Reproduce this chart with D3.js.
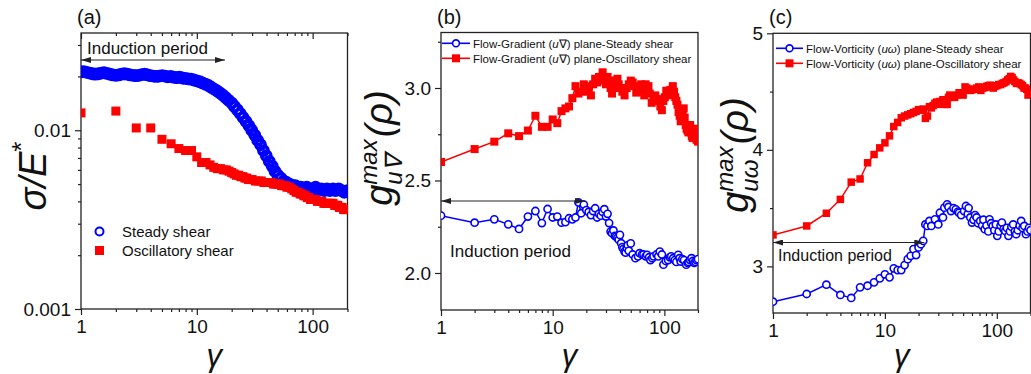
<!DOCTYPE html>
<html>
<head>
<meta charset="utf-8">
<script src="https://cdn.jsdelivr.net/npm/d3@7"></script>
<style>
  body { margin: 0; background: #fff; }
  svg text { font-family: "Liberation Sans", Arial, Helvetica, sans-serif; fill: #111; }
</style>
</head>
<body>
<svg id="chart" width="1031" height="374"></svg>
<script>
// ---- data ----
const strainDomain = [1, 200];
const strainTicks = [1, 10, 100];
const strainMinor = [2, 3, 4, 5, 6, 7, 8, 9, 20, 30, 40, 50, 60, 70, 80, 90, 200];

// (a) stress / modulus
const aSteadyStrain = [1, 1.06, 1.12, 1.19, 1.26, 1.33, 1.41, 1.5, 1.58, 1.68, 1.78, 1.88, 2, 2.11, 2.24, 2.37, 2.51, 2.66, 2.82, 2.98, 3.16, 3.35, 3.55, 3.76, 3.98, 4.22, 4.47, 4.73, 5.01, 5.31, 5.62, 5.96, 6.31, 6.68, 7.08, 7.5, 7.94, 8.41, 8.91, 9.44, 10, 10.6, 11.2, 11.9, 12.6, 13.3, 14.1, 15, 15.8, 16.8, 17.8, 18.8, 20, 21.1, 22.4, 23.7, 25.1, 26.6, 28.2, 29.8, 31.6, 33.5, 35.5, 37.6, 39.8, 42.2, 44.7, 47.3, 50.1, 53.1, 56.2, 59.6, 63.1, 66.8, 70.8, 75, 79.4, 84.1, 89.1, 94.4, 100, 106, 112, 119, 126, 133, 141, 150, 158, 168, 178, 188, 200];
const aSteadySigma = [0.0212, 0.0213, 0.0211, 0.0209, 0.0207, 0.0206, 0.0207, 0.0209, 0.0210, 0.0208, 0.0206, 0.0204, 0.0203, 0.0204, 0.0206, 0.0207, 0.0206, 0.0204, 0.0203, 0.0202, 0.0203, 0.0205, 0.0206, 0.0204, 0.0202, 0.0201, 0.0200, 0.0201, 0.0202, 0.0201, 0.0199, 0.0200, 0.0198, 0.0197, 0.0198, 0.0196, 0.0195, 0.0194, 0.0193, 0.0191, 0.0189, 0.0187, 0.0184, 0.0181, 0.0178, 0.0174, 0.0170, 0.0166, 0.0162, 0.0157, 0.0152, 0.0147, 0.0142, 0.0136, 0.0130, 0.0124, 0.0118, 0.0112, 0.0106, 0.0100, 0.0094, 0.0088, 0.0083, 0.0077, 0.0072, 0.0067, 0.0063, 0.0059, 0.0056, 0.0054, 0.0052, 0.0051, 0.0050, 0.0049, 0.0049, 0.0048, 0.0048, 0.0047, 0.0048, 0.0047, 0.0047, 0.0048, 0.0046, 0.0047, 0.0046, 0.0047, 0.0046, 0.0047, 0.0046, 0.0047, 0.0046, 0.0045, 0.0046];
const aOscStrain = [1, 2, 3, 4, 5, 6, 7, 8, 9, 10, 11, 12, 13, 14, 15, 16, 17, 18, 19, 20, 21, 22, 23, 24, 25, 26, 27, 28, 29, 30, 32, 34, 36, 38, 40, 42, 44, 46, 48, 50, 52, 54, 56, 58, 60, 63, 66, 69, 72, 75, 78, 81, 84, 87, 90, 93, 96, 99, 105, 110, 115, 120, 125, 130, 135, 140, 145, 150, 155, 160, 165, 170, 175, 180, 185, 190, 195, 200];
const aOscSigma = [0.0125, 0.0128, 0.0103, 0.0103, 0.0089, 0.0084, 0.0079, 0.0077, 0.0077, 0.0071, 0.0066, 0.0066, 0.0064, 0.0062, 0.0061, 0.0061, 0.0060, 0.0060, 0.0059, 0.0058, 0.0057, 0.0056, 0.0056, 0.0055, 0.0055, 0.0054, 0.0054, 0.0053, 0.0053, 0.0053, 0.0052, 0.0052, 0.0052, 0.0051, 0.0051, 0.0051, 0.0051, 0.0050, 0.0050, 0.0050, 0.0050, 0.0049, 0.0049, 0.0049, 0.0048, 0.0048, 0.0047, 0.0046, 0.0045, 0.0045, 0.0044, 0.0044, 0.0043, 0.0043, 0.0042, 0.0042, 0.0041, 0.0041, 0.0041, 0.0040, 0.0040, 0.0040, 0.0039, 0.0039, 0.0039, 0.0039, 0.0039, 0.0039, 0.0038, 0.0038, 0.0038, 0.0037, 0.0037, 0.0037, 0.0036, 0.0036, 0.0036, 0.0036];

// (b) flow-gradient plane
const bSteadyStrain = [1, 2, 3, 4, 5, 6, 7, 8, 9, 10, 11, 12, 13, 14, 15, 16, 17, 18, 19, 20, 21, 22, 23, 24, 25, 26, 27, 28, 29, 30, 31, 32, 33, 34, 35, 36, 37, 38, 39, 40, 41, 42, 43, 44, 45, 46, 47, 48, 50, 52, 55, 58, 60, 63, 65, 68, 70, 73, 75, 78, 80, 85, 88, 91, 95, 98, 103, 108, 112, 115, 120, 124, 128, 133, 137, 140, 145, 150, 157, 162, 165, 170, 175, 180, 185, 190, 194, 200];
const bSteadyG = [2.31, 2.272, 2.29, 2.263, 2.238, 2.305, 2.335, 2.27, 2.346, 2.30, 2.305, 2.272, 2.275, 2.296, 2.29, 2.30, 2.382, 2.323, 2.37, 2.34, 2.33, 2.313, 2.335, 2.35, 2.30, 2.32, 2.31, 2.33, 2.345, 2.305, 2.32, 2.27, 2.224, 2.215, 2.23, 2.20, 2.197, 2.19, 2.18, 2.206, 2.161, 2.14, 2.13, 2.116, 2.11, 2.135, 2.15, 2.12, 2.16, 2.10, 2.08, 2.09, 2.107, 2.10, 2.10, 2.09, 2.098, 2.085, 2.07, 2.08, 2.09, 2.10, 2.09, 2.116, 2.10, 2.045, 2.065, 2.07, 2.085, 2.09, 2.08, 2.07, 2.06, 2.098, 2.08, 2.062, 2.075, 2.07, 2.045, 2.055, 2.06, 2.07, 2.08, 2.065, 2.055, 2.06, 2.07, 2.075];
const bOscStrain = [1, 2, 3, 4, 5, 6, 7, 8, 9, 10, 11, 12, 13, 14, 15, 16, 17, 18, 19, 20, 21, 22, 23, 24, 25, 26, 27, 28, 29, 30, 31, 32, 33, 34, 35, 36, 37, 38, 39, 40, 42, 44, 46, 48, 50, 52, 54, 56, 58, 60, 62, 64, 66, 68, 70, 72, 74, 77, 80, 83, 86, 89, 92, 95, 98, 101, 104, 107, 110, 113, 116, 119, 122, 125, 128, 131, 134, 137, 140, 143, 146, 149, 152, 155, 158, 161, 164, 167, 170, 173, 176, 179, 182, 185, 188, 191, 194, 197, 200];
const bOscG = [2.60, 2.67, 2.71, 2.755, 2.74, 2.77, 2.85, 2.79, 2.79, 2.83, 2.81, 2.875, 2.89, 2.90, 2.945, 3.01, 2.97, 2.98, 3.02, 3.01, 2.98, 2.96, 3.02, 3.05, 3.03, 3.06, 3.04, 3.085, 3.05, 3.02, 3.06, 3.04, 3.00, 2.97, 3.03, 3.00, 3.04, 3.05, 3.02, 3.00, 2.98, 2.96, 3.00, 3.02, 3.04, 3.03, 3.01, 2.975, 2.99, 3.00, 3.02, 2.98, 2.96, 3.02, 3.00, 3.01, 2.97, 2.92, 2.95, 2.96, 2.93, 2.94, 2.90, 2.88, 2.93, 2.95, 2.985, 2.96, 2.97, 2.99, 2.97, 3.01, 2.98, 2.95, 2.93, 2.91, 2.87, 2.85, 2.82, 2.86, 2.88, 2.89, 2.84, 2.80, 2.78, 2.77, 2.76, 2.79, 2.80, 2.76, 2.74, 2.73, 2.76, 2.78, 2.75, 2.74, 2.72, 2.73, 2.71];

// (c) flow-vorticity plane
const cSteadyStrain = [1, 2, 3, 4, 5, 6, 7, 8, 9, 10, 11, 12, 13, 14, 15, 16, 17, 18, 19, 20, 21, 22, 23, 24, 25, 26, 28, 30, 31, 33, 34, 36, 37, 39, 41, 43, 45, 46, 48, 51, 53, 55, 56, 58, 60, 62, 64, 66, 68, 71, 74, 76, 78, 81, 84, 86, 89, 92, 95, 98, 101, 104, 108, 111, 115, 119, 123, 127, 131, 135, 140, 145, 149, 154, 160, 165, 170, 176, 182, 188, 194, 200];
const cSteadyG = [2.697, 2.763, 2.843, 2.755, 2.729, 2.82, 2.834, 2.863, 2.897, 2.932, 2.906, 2.983, 2.968, 2.968, 3.011, 3.062, 3.09, 3.148, 3.097, 3.162, 3.19, 3.219, 3.36, 3.347, 3.39, 3.347, 3.404, 3.36, 3.46, 3.42, 3.504, 3.532, 3.51, 3.475, 3.50, 3.49, 3.47, 3.46, 3.44, 3.475, 3.518, 3.45, 3.50, 3.42, 3.376, 3.40, 3.44, 3.42, 3.37, 3.39, 3.35, 3.40, 3.319, 3.35, 3.30, 3.404, 3.37, 3.347, 3.31, 3.36, 3.262, 3.30, 3.35, 3.376, 3.32, 3.304, 3.33, 3.262, 3.30, 3.34, 3.36, 3.30, 3.276, 3.31, 3.35, 3.39, 3.33, 3.347, 3.276, 3.30, 3.33, 3.31];
const cOscStrain = [1, 2, 3, 4, 5, 6, 7, 8, 9, 10, 11, 12, 13, 14, 15, 16, 17, 18, 19, 20, 21, 22, 23, 24, 25, 26, 27, 28, 29, 30, 31, 32, 33, 34, 35, 36, 37, 38, 39, 40, 42, 44, 46, 48, 50, 52, 54, 56, 58, 60, 63, 66, 69, 72, 75, 78, 81, 84, 87, 90, 93, 96, 100, 104, 108, 112, 116, 121, 125, 129, 133, 137, 141, 145, 150, 155, 160, 165, 170, 175, 180, 185, 190, 195, 200];
const cOscG = [3.27, 3.347, 3.456, 3.575, 3.723, 3.75, 3.889, 3.96, 4.017, 4.06, 4.12, 4.20, 4.235, 4.275, 4.29, 4.30, 4.31, 4.32, 4.33, 4.345, 4.34, 4.35, 4.27, 4.29, 4.37, 4.36, 4.38, 4.40, 4.41, 4.39, 4.415, 4.40, 4.43, 4.42, 4.39, 4.39, 4.45, 4.47, 4.46, 4.46, 4.45, 4.47, 4.49, 4.48, 4.47, 4.54, 4.53, 4.52, 4.51, 4.515, 4.52, 4.53, 4.54, 4.51, 4.53, 4.535, 4.545, 4.55, 4.555, 4.54, 4.53, 4.545, 4.55, 4.56, 4.56, 4.57, 4.575, 4.585, 4.60, 4.61, 4.63, 4.62, 4.60, 4.585, 4.57, 4.575, 4.57, 4.56, 4.55, 4.53, 4.53, 4.52, 4.47, 4.48, 4.49];

const BLUE = "#0000ff";
const RED = "#ff0000";
const INK = "#222";

const svg = d3.select("#chart");

svg.append("defs").append("marker")
  .attr("id", "arrow")
  .attr("viewBox", "0 0 10 6")
  .attr("refX", 10).attr("refY", 3)
  .attr("markerWidth", 10).attr("markerHeight", 6)
  .attr("markerUnits", "userSpaceOnUse")
  .attr("orient", "auto-start-reverse")
  .append("path").attr("d", "M0,0L10,3L0,6Z").attr("fill", INK);

function zip(xs, ys) { return xs.map((d, i) => [d, ys[i]]); }

function styleAxis(sel, fontSize) {
  sel.select(".domain").remove();
  sel.selectAll("line").attr("stroke", INK).attr("stroke-width", 1.2);
  sel.selectAll("text").attr("font-size", fontSize).attr("fill", "#111")
    .attr("font-family", '"Liberation Sans", Arial, sans-serif');
}

function drawPanel(p) {
  const g = svg.append("g");
  const x = d3.scaleLog().domain(strainDomain).range([p.left, p.right]);
  const y = (p.logY ? d3.scaleLog() : d3.scaleLinear()).domain(p.yDomain).range([p.bottom, p.top]);

  const clipId = "clip-" + p.id;
  svg.select("defs").append("clipPath").attr("id", clipId)
    .append("rect").attr("x", p.left).attr("y", p.top)
    .attr("width", p.right - p.left).attr("height", p.bottom - p.top);

  // x axis
  g.append("g").attr("transform", `translate(0,${p.bottom})`)
    .call(d3.axisBottom(x).tickValues(strainTicks).tickFormat(d3.format("d")).tickSize(6).tickPadding(5))
    .call(s => styleAxis(s, 19));
  g.append("g").attr("transform", `translate(0,${p.bottom})`)
    .call(d3.axisBottom(x).tickValues(strainMinor).tickFormat("").tickSize(3))
    .call(s => styleAxis(s, 19));
  if (p.topTicks) {
    g.append("g").attr("transform", `translate(0,${p.top})`)
      .call(d3.axisBottom(x).tickValues(strainTicks).tickFormat("").tickSize(6))
      .call(s => styleAxis(s, 19));
    g.append("g").attr("transform", `translate(0,${p.top})`)
      .call(d3.axisBottom(x).tickValues(strainMinor).tickFormat("").tickSize(3))
      .call(s => styleAxis(s, 19));
  }

  // y axis
  g.append("g").attr("transform", `translate(${p.left},0)`)
    .call(d3.axisLeft(y).tickValues(p.yTicks).tickFormat(p.yFormat).tickSize(6).tickPadding(4))
    .call(s => styleAxis(s, 19));
  g.append("g").attr("transform", `translate(${p.left},0)`)
    .call(d3.axisLeft(y).tickValues(p.yMinor).tickFormat("").tickSize(3))
    .call(s => styleAxis(s, 19));

  // frame
  g.append("rect")
    .attr("x", p.left).attr("y", p.top)
    .attr("width", p.right - p.left).attr("height", p.bottom - p.top)
    .attr("fill", "none").attr("stroke", INK).attr("stroke-width", 1.3);

  const plot = g.append("g").attr("clip-path", `url(#${clipId})`);

  p.series.forEach(s => {
    const pts = zip(s.xs, s.ys);
    if (s.line) {
      plot.append("path").datum(pts)
        .attr("fill", "none").attr("stroke", s.color).attr("stroke-width", 1.5)
        .attr("d", d3.line().x(d => x(d[0])).y(d => y(d[1])));
    }
    if (s.shape === "circle") {
      plot.selectAll(null).data(pts).enter().append("circle")
        .attr("cx", d => x(d[0])).attr("cy", d => y(d[1]))
        .attr("r", s.size)
        .attr("fill", s.fill).attr("stroke", s.color).attr("stroke-width", s.stroke);
    } else {
      plot.selectAll(null).data(pts).enter().append("rect")
        .attr("x", d => x(d[0]) - s.size / 2).attr("y", d => y(d[1]) - s.size / 2)
        .attr("width", s.size).attr("height", s.size)
        .attr("fill", s.color);
    }
  });

  // x title
  g.append("text")
    .attr("x", (p.left + p.right) / 2).attr("y", 366)
    .attr("text-anchor", "middle").attr("font-size", 31).attr("font-style", "italic")
    .attr("font-family", '"Liberation Serif", "Times New Roman", serif')
    .text("γ");

  // panel letter
  g.append("text").attr("x", p.letterX).attr("y", 24).attr("font-size", 20).text(p.letter);

  // induction period arrow + label
  g.append("line")
    .attr("x1", x(1)).attr("x2", x(p.arrowTo))
    .attr("y1", p.arrowY).attr("y2", p.arrowY)
    .attr("stroke", INK).attr("stroke-width", 1.1)
    .attr("marker-start", "url(#arrow)").attr("marker-end", "url(#arrow)");
  g.append("text").attr("x", p.noteX).attr("y", p.noteY)
    .attr("font-size", p.noteSize).text("Induction period");

  return { g, x, y };
}

// rotated y-axis title built from pieces (main, superscript, subscript, tail)
function gTitle(g, cx, cy, sub) {
  const t = g.append("text")
    .attr("transform", `translate(${cx},${cy}) rotate(-90)`)
    .attr("text-anchor", "middle").attr("font-style", "italic");
  t.append("tspan").attr("font-size", 38).text("g");
  const sup = t.append("tspan").attr("font-size", 24).attr("dy", -15).text("max");
  const sb = t.append("tspan").attr("font-size", 24).attr("dy", 25).text(sub);
  const tail = t.append("tspan").attr("font-size", 38).attr("dy", -10).text("(ρ)");
  const wSup = sup.node().getComputedTextLength();
  const wSub = sb.node().getComputedTextLength();
  sb.attr("dx", -wSup);
  tail.attr("dx", Math.max(0, wSup - wSub) + 2);
}

// ---- panel (a) ----
const A = drawPanel({
  id: "a", left: 81, right: 347.5, top: 33, bottom: 309,
  logY: true, yDomain: [0.001, 0.035],
  yTicks: [0.001, 0.01], yFormat: d => (d === 0.01 ? "0.01" : "0.001"),
  yMinor: [0.002, 0.003, 0.004, 0.005, 0.006, 0.007, 0.008, 0.009, 0.02, 0.03],
  topTicks: true, letter: "(a)", letterX: 77,
  arrowTo: 17.5, arrowY: 60, noteX: 87, noteY: 54, noteSize: 17,
  series: [
    { xs: aSteadyStrain, ys: aSteadySigma, color: BLUE, shape: "circle", size: 4.6, stroke: 3.6, fill: "none" },
    { xs: aOscStrain, ys: aOscSigma, color: RED, shape: "square", size: 9 }
  ]
});
{
  const t = A.g.append("text")
    .attr("transform", "translate(46,176) rotate(-90)")
    .attr("text-anchor", "middle").attr("font-style", "italic");
  t.append("tspan").attr("font-size", 38).text("σ/E");
  t.append("tspan").attr("font-size", 26).attr("font-style", "normal").attr("dy", -16).text("*");
  const lg = A.g.append("g");
  lg.append("circle").attr("cx", 99.5).attr("cy", 231.5).attr("r", 4)
    .attr("fill", "none").attr("stroke", BLUE).attr("stroke-width", 2);
  lg.append("rect").attr("x", 95).attr("y", 246).attr("width", 9).attr("height", 9).attr("fill", RED);
  lg.append("text").attr("x", 122).attr("y", 237).attr("font-size", 15).text("Steady shear");
  lg.append("text").attr("x", 122).attr("y", 256).attr("font-size", 15).text("Oscillatory shear");
}

// ---- panel (b) ----
const B = drawPanel({
  id: "b", left: 441, right: 698, top: 32.5, bottom: 310,
  logY: false, yDomain: [1.8, 3.3],
  yTicks: [2.0, 2.5, 3.0], yFormat: d3.format(".1f"),
  yMinor: [2.25, 2.75, 3.25],
  topTicks: false, letter: "(b)", letterX: 437,
  arrowTo: 19.5, arrowY: 201, noteX: 450, noteY: 257, noteSize: 17,
  series: [
    { xs: bSteadyStrain, ys: bSteadyG, color: BLUE, shape: "circle", size: 3.6, stroke: 1.6, fill: "#fff", line: true },
    { xs: bOscStrain, ys: bOscG, color: RED, shape: "square", size: 8, line: true }
  ]
});
gTitle(B.g, 392, 148, "u∇");

// ---- panel (c) ----
const C = drawPanel({
  id: "c", left: 773, right: 1030.5, top: 33.3, bottom: 313,
  logY: false, yDomain: [2.6, 5],
  yTicks: [3, 4, 5], yFormat: d3.format("d"),
  yMinor: [3.5, 4.5],
  topTicks: false, letter: "(c)", letterX: 769,
  arrowTo: 22.5, arrowY: 242.5, noteX: 778, noteY: 261, noteSize: 16,
  series: [
    { xs: cSteadyStrain, ys: cSteadyG, color: BLUE, shape: "circle", size: 3.6, stroke: 1.6, fill: "#fff", line: true },
    { xs: cOscStrain, ys: cOscG, color: RED, shape: "square", size: 7.5, line: true }
  ]
});
gTitle(C.g, 748, 155, "uω");

// line+symbol legends for (b) and (c)
function lineLegend(g, x0, x1, tx, ys, labels) {
  const entries = [
    { color: BLUE, shape: "circle" },
    { color: RED, shape: "square" }
  ];
  entries.forEach((e, i) => {
    const yy = ys[i], xm = (x0 + x1) / 2;
    g.append("line").attr("x1", x0).attr("x2", x1).attr("y1", yy).attr("y2", yy)
      .attr("stroke", e.color).attr("stroke-width", 1.6);
    if (e.shape === "circle") {
      g.append("circle").attr("cx", xm).attr("cy", yy).attr("r", 3.4)
        .attr("fill", "#fff").attr("stroke", e.color).attr("stroke-width", 1.6);
    } else {
      g.append("rect").attr("x", xm - 4).attr("y", yy - 4).attr("width", 8).attr("height", 8).attr("fill", e.color);
    }
    const t = g.append("text").attr("x", tx).attr("y", yy + 4.2).attr("font-size", 11.5);
    labels[i].forEach(part => {
      t.append("tspan").attr("font-style", part.i ? "italic" : "normal").text(part.t);
    });
  });
}

lineLegend(B.g, 442, 470, 473, [43.3, 58.3], [
  [{ t: "Flow-Gradient (" }, { t: "u", i: true }, { t: "∇) plane-Steady shear" }],
  [{ t: "Flow-Gradient (" }, { t: "u", i: true }, { t: "∇) plane-Oscillatory shear" }]
]);
lineLegend(C.g, 776, 803, 806, [48.3, 63.3], [
  [{ t: "Flow-Vorticity (" }, { t: "uω", i: true }, { t: ") plane-Steady shear" }],
  [{ t: "Flow-Vorticity (" }, { t: "uω", i: true }, { t: ") plane-Oscillatory shear" }]
]);
</script>
</body>
</html>
